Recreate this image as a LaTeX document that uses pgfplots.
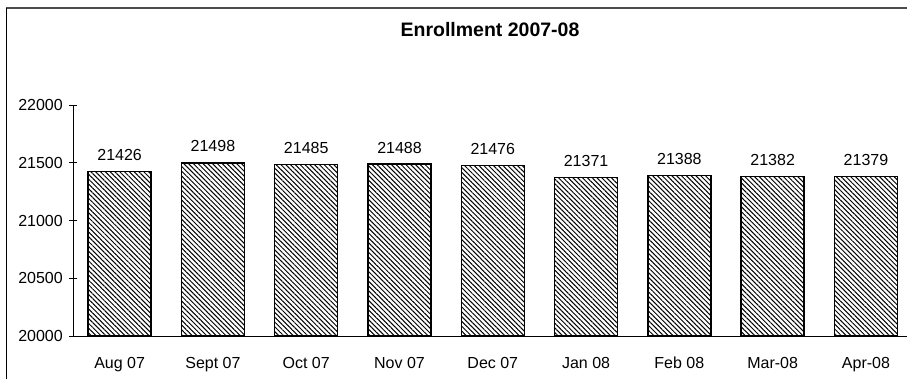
\documentclass[border=0pt]{standalone}
\usepackage{fontspec}
\setmainfont{Liberation Sans}
\usepackage{pgfplots}
\pgfplotsset{compat=1.18}
\usetikzlibrary{patterns.meta}
\begin{document}
\begin{tikzpicture}
\useasboundingbox (0,0) rectangle (907pt,379pt);
\draw[gray!60!black, line width=1.5pt] (6pt,371pt) -- (907pt,371pt);
\draw[black, line width=0.8pt] (6.5pt,371pt) -- (6.5pt,0pt);
\begin{axis}[
  at={(73pt,43pt)}, anchor=south west,
  scale only axis, width=834pt, height=231pt,
  xmin=-0.5, xmax=8.44, ymin=20000, ymax=22000,
  axis x line=bottom, axis y line=left,
  axis line style={-, black, line width=0.8pt},
  ytick={20000,20500,21000,21500,22000},
  scaled y ticks=false,
  yticklabel style={/pgf/number format/fixed, /pgf/number format/1000 sep={}},
  xtick={0,...,8},
  xticklabels={Aug 07,Sept 07,Oct 07,Nov 07,Dec 07,Jan 08,Feb 08,Mar-08,Apr-08},
  x tick style={draw=none},
  y tick style={black, line width=0.8pt},
  tick align=center, major tick length=8pt,
  extra x ticks={-0.5,0.5,...,7.5},
  extra x tick labels={},
  extra x tick style={tick style={draw=black, line width=0.8pt}, major tick length=8pt},
  /pgf/number format/assume math mode=true,
  /pgf/number format/1000 sep={},
  ticklabel style={font=\fontsize{16}{19}\selectfont},
  yticklabel style={inner sep=0pt, anchor=east, xshift=-6pt},
  xticklabel style={inner sep=0pt, anchor=north, yshift=-13pt},
  title={Enrollment 2007-08},
  title style={font=\fontsize{19.5}{23}\selectfont\bfseries, anchor=base, at={(0.5,1)}, yshift=62pt},
  ybar, bar width=63pt,
  nodes near coords,
  every node near coord/.append style={font=\fontsize{16}{19}\selectfont, anchor=base, yshift=11pt,
    /pgf/number format/assume math mode=true, /pgf/number format/1000 sep={}},
  clip=false,
]
\addplot[draw=black, line width=1.4pt, pattern={Lines[angle=-45, distance=3.4pt, line width=1pt]}]
coordinates {(0,21426) (1,21498) (2,21485) (3,21488) (4,21476) (5,21371) (6,21388) (7,21382) (8,21379)};
\end{axis}
\end{tikzpicture}
\end{document}
